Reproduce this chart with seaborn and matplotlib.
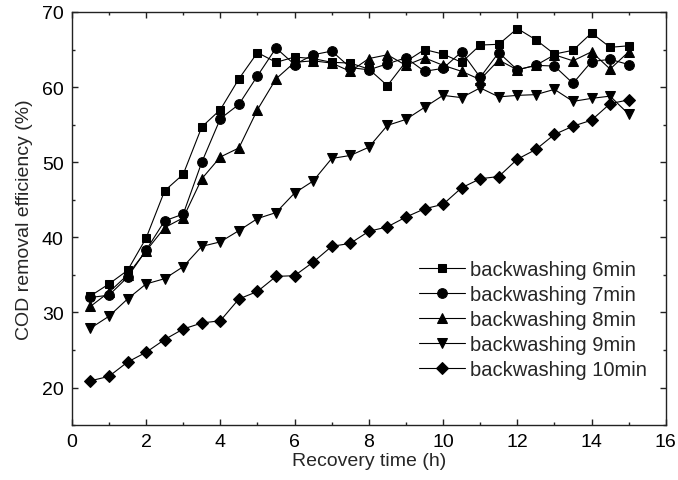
import matplotlib
matplotlib.use("Agg")
import matplotlib.pyplot as plt
import seaborn as sns
from matplotlib.ticker import MultipleLocator

# recovery time (h)
time_h = [0.5, 1.0, 1.5, 2.0, 2.5, 3.0, 3.5, 4.0, 4.5, 5.0,
          5.5, 6.0, 6.5, 7.0, 7.5, 8.0, 8.5, 9.0, 9.5, 10.0,
          10.5, 11.0, 11.5, 12.0, 12.5, 13.0, 13.5, 14.0, 14.5, 15.0]

# COD removal efficiency (%) for each backwashing duration
bw_6min = [32.2, 33.8, 35.6, 39.9, 46.2, 48.4, 54.7, 57.0, 61.1, 64.6,
           63.3, 64.0, 63.8, 63.3, 63.2, 62.4, 60.2, 63.4, 65.0, 64.4,
           63.3, 65.6, 65.7, 67.8, 66.3, 64.4, 64.9, 67.2, 65.3, 65.5]
bw_7min = [32.0, 32.3, 34.7, 38.3, 42.2, 43.1, 50.0, 55.8, 57.7, 61.5,
           65.2, 63.0, 64.3, 64.8, 62.6, 62.3, 63.1, 63.9, 62.1, 62.5,
           64.7, 61.3, 64.6, 62.3, 62.9, 62.8, 60.5, 63.4, 63.7, 63.0]
bw_8min = [30.8, 32.7, 35.0, 38.2, 41.3, 42.6, 47.8, 50.7, 51.9, 57.0,
           61.1, 63.3, 63.5, 63.2, 62.1, 63.8, 64.3, 62.9, 63.9, 62.9,
           62.1, 61.0, 63.6, 62.3, 62.9, 64.3, 63.5, 64.7, 62.4, 64.7]
bw_9min = [27.9, 29.5, 31.8, 33.8, 34.5, 36.1, 38.8, 39.4, 40.9, 42.5,
           43.3, 45.9, 47.5, 50.5, 50.9, 52.0, 54.9, 55.7, 57.3, 58.9,
           58.6, 59.9, 58.7, 58.9, 59.0, 59.7, 58.1, 58.5, 58.8, 56.4]
bw_10min = [20.9, 21.5, 23.4, 24.7, 26.4, 27.8, 28.6, 28.9, 31.8, 32.8,
            34.8, 34.9, 36.7, 38.8, 39.2, 40.8, 41.4, 42.7, 43.8, 44.4,
            46.6, 47.8, 48.1, 50.4, 51.7, 53.7, 54.8, 55.6, 57.8, 58.3]

series = {
    "backwashing 6min": (bw_6min, "s", 6.0),
    "backwashing 7min": (bw_7min, "o", 7.0),
    "backwashing 8min": (bw_8min, "^", 7.5),
    "backwashing 9min": (bw_9min, "v", 7.5),
    "backwashing 10min": (bw_10min, "D", 6.0),
}

sns.set_style("ticks")
plt.rcParams["font.family"] = ["Liberation Sans", "DejaVu Sans"]

fig = plt.figure(figsize=(6.78, 4.81), dpi=100)
ax = fig.add_axes([0.106, 0.114, 0.876, 0.859])

for name, (vals, mk, ms) in series.items():
    sns.lineplot(x=time_h, y=vals, ax=ax, color="black", linewidth=0.8,
                 marker=mk, markersize=ms, markeredgecolor="black",
                 markerfacecolor="black", label=name)

ax.set_xlim(0, 16)
ax.set_ylim(15, 70)
ax.xaxis.set_major_locator(MultipleLocator(2))
ax.xaxis.set_minor_locator(MultipleLocator(1))
ax.yaxis.set_major_locator(MultipleLocator(10))
ax.yaxis.set_minor_locator(MultipleLocator(5))
ax.tick_params(which="both", direction="in", top=True, right=True,
               width=1.0, colors="#222222", labelcolor="black")
ax.tick_params(which="major", length=4, labelsize=14, pad=6)
ax.tick_params(which="minor", length=2.5)
for sp in ax.spines.values():
    sp.set_linewidth(1.0)
    sp.set_color("#222222")

ax.set_xlabel("Recovery time (h)", fontsize=14, labelpad=1)
ax.set_ylabel("COD removal efficiency (%)", fontsize=14, labelpad=6)

ax.legend(loc="center left", bbox_to_anchor=(0.618, 0.333),
          bbox_transform=fig.transFigure, frameon=False, fontsize=14.5,
          borderpad=0, borderaxespad=0, handlelength=2.3,
          handletextpad=0.25, labelspacing=0.3)

fig.savefig("out.png", dpi=100)
